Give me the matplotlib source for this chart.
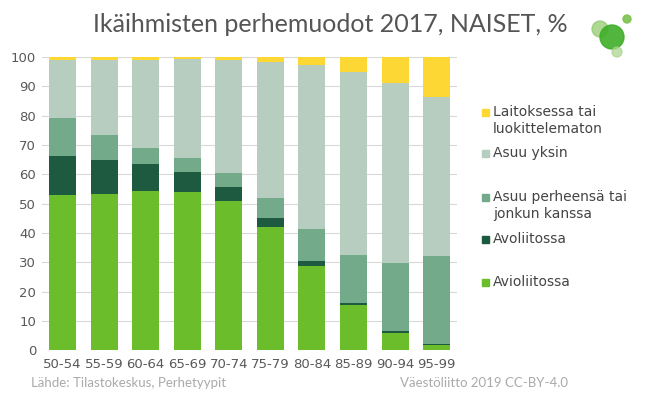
import matplotlib.pyplot as plt
from matplotlib.patches import Circle, Rectangle
import numpy as np

ages = ["50-54", "55-59", "60-64", "65-69", "70-74", "75-79", "80-84", "85-89", "90-94", "95-99"]

# % osuudet, luettu kuvasta
avioliitossa = [53.1, 53.3, 54.2, 54.0, 50.9, 42.0, 28.8, 15.3, 6.0, 1.7]
avoliitossa = [13.2, 11.5, 9.5, 6.9, 4.8, 3.0, 1.8, 0.7, 0.6, 0.5]
perheensa = [13.0, 8.5, 5.3, 4.6, 4.8, 6.8, 10.7, 16.6, 23.2, 29.9]
yksin = [19.8, 25.8, 30.2, 33.9, 38.6, 46.6, 56.0, 62.3, 61.3, 54.2]
laitos = [0.9, 0.9, 0.8, 0.6, 0.9, 1.6, 2.7, 5.1, 8.9, 13.7]

series = [
    ("Avioliitossa", avioliitossa, "#6bbd2b"),
    ("Avoliitossa", avoliitossa, "#1d5a3f"),
    ("Asuu perheensä tai\njonkun kanssa", perheensa, "#72aa8a"),
    ("Asuu yksin", yksin, "#b6cdbf"),
    ("Laitoksessa tai\nluokittelematon", laitos, "#fdd835"),
]

fig = plt.figure(figsize=(6.62, 3.97), dpi=100)
ax = fig.add_axes([0.063, 0.118, 0.628, 0.738])

x = np.arange(len(ages))
bottom = np.zeros(len(ages))
for name, vals, col in series:
    ax.bar(x, vals, width=0.65, bottom=bottom, color=col, zorder=3)
    bottom += np.array(vals)

ax.set_xlim(-0.5, 9.5)
ax.set_ylim(0, 100)
ax.set_yticks(range(0, 101, 10))
ax.set_xticks(x)
ax.set_xticklabels(ages)
ax.grid(axis="y", color="#d9d9d9", linewidth=0.8, zorder=0)
for s in ax.spines.values():
    s.set_visible(False)
ax.tick_params(length=0, colors="#595959", labelsize=9.5)
ax.tick_params(axis="x", pad=6)
ax.tick_params(axis="y", pad=4)

fig.text(330 / 662, 1 - 25 / 397, "Ikäihmisten perhemuodot 2017, NAISET, %", ha="center", va="center",
         fontsize=18, color="#555555", family="Lato")

# legenda kuvan oikealla puolella: (ylimmän rivin y, rivien määrä)
leg_rows = [(112, 2), (153, 1), (197, 2), (239, 1), (282, 1)]
for (name, vals, col), (yy, n) in zip(series[::-1], leg_rows):
    fig.patches.append(Rectangle((482 / 662, 1 - (yy + 3.5) / 397), 7 / 662, 7 / 397,
                                 transform=fig.transFigure, color=col))
    fig.text(493 / 662, 1 - (yy - 7) / 397, name, ha="left", va="top", fontsize=10,
             color="#444444", linespacing=1.25)

fig.text(31 / 662, 1 - 383 / 397, "Lähde: Tilastokeskus, Perhetyypit", ha="left", va="center",
         fontsize=9.5, color="#aaaaaa", family="Lato")
fig.text(568 / 662, 1 - 383 / 397, "Väestöliitto 2019 CC-BY-4.0", ha="right", va="center",
         fontsize=9.5, color="#aaaaaa", family="Lato")

# logo (pikseleinä -> tuumina)
for cx, cy, r, col, a in [(600, 29, 8, "#8cc866", 0.7), (612, 37, 12, "#3fae29", 0.9),
                          (627, 19, 4, "#7cc24d", 0.9), (617, 52, 5, "#a8d48a", 0.7)]:
    fig.patches.append(Circle((cx / 100, (397 - cy) / 100), r / 100,
                              transform=fig.dpi_scale_trans, color=col, alpha=a))

fig.savefig("out.png", dpi=100)
